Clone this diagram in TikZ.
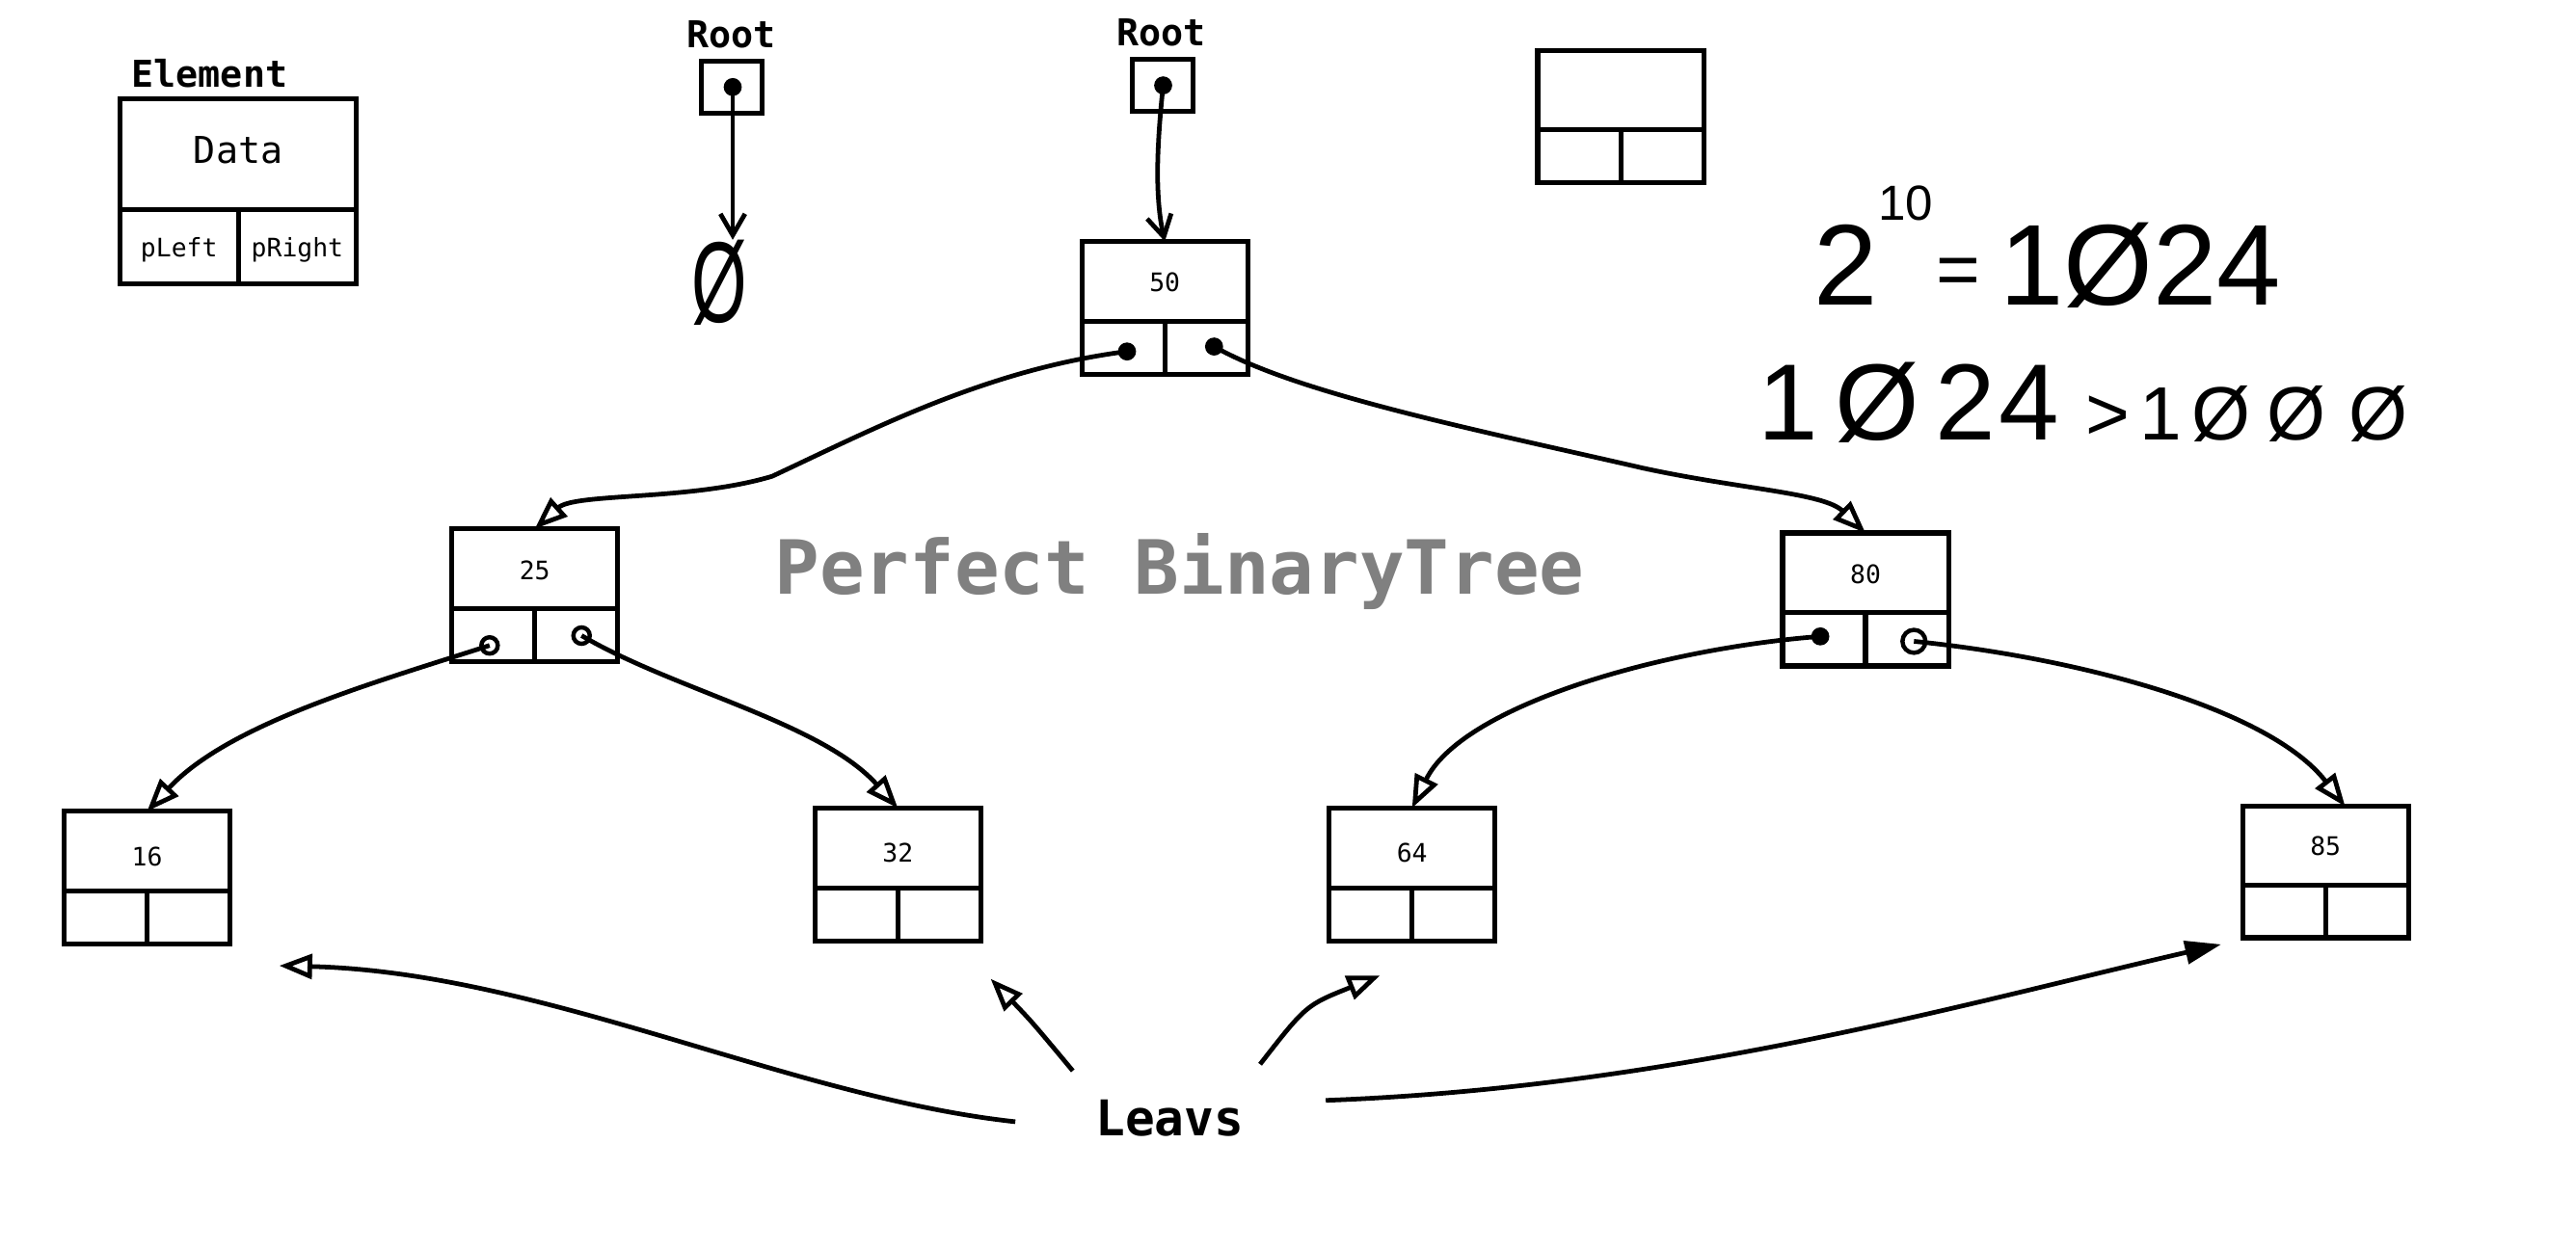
\documentclass[tikz,border=0pt]{standalone}
\usepackage{fontspec}
\usepackage{graphicx}
\setmainfont{Liberation Sans}
\setmonofont{DejaVu Sans Mono}
\usetikzlibrary{arrows.meta,calc}
\definecolor{titlegray}{RGB}{128,128,128}
\begin{document}
\begin{tikzpicture}[x=1pt,y=-1pt,
  cellbox/.style={draw,line width=3pt,inner sep=0pt,outer sep=0pt,minimum width=101pt,minimum height=81pt},
  split/.style={line width=3pt},
  numtxt/.style={font=\ttfamily\fontsize{15.5}{16}\selectfont,inner sep=0pt},
  bigtxt/.style={font=\ttfamily\bfseries\fontsize{22.5}{24}\selectfont,inner sep=0pt},
  fieldtxt/.style={font=\ttfamily\fontsize{22.5}{24}\selectfont,inner sep=0pt},
  ptrtxt/.style={font=\ttfamily\fontsize{15.5}{16}\selectfont,inner sep=0pt},
  dotfill/.style={circle,fill,inner sep=0pt,minimum size=11pt},
  dotopen/.style={circle,draw,line width=2.6pt,inner sep=0pt,minimum size=10pt},
  link/.style={line width=2.8pt,-{Triangle[open,length=20pt,width=15pt]}},
  linkfill/.style={line width=2.8pt,-{Triangle[length=22pt,width=14pt]}},
  rootlink/.style={line width=2.8pt,-{Straight Barb[length=13pt,width=15pt]}},
  hand/.style={inner sep=0pt}
]
\path[use as bounding box,fill=white] (0,0) rectangle (1568,761);

% element legend
\node[cellbox,minimum width=144pt,minimum height=113pt] (elem) at (145,116.5) {};
\node[bigtxt,anchor=base west] (elemlbl) at (80,53) {Element};
\node[fieldtxt] (datatxt) at ($(elem.north)!0.28!(elem.south)$) {Data};
\node[ptrtxt] (plefttxt) at ($(elem.south west)!0.25!(elem.south east)+(0,-21)$) {pLeft};
\node[ptrtxt] (prighttxt) at ($(elem.south west)!0.75!(elem.south east)+(0,-21)$) {pRight};

% empty element
\node[cellbox,minimum width=101pt,minimum height=80pt] (empty) at (986.5,71) {};

% tree nodes
\node[cellbox] (n50) at (709,187.5) {};
\node[cellbox] (n25) at (325.5,362.5) {};
\node[cellbox] (n80) at (1135.5,365) {};
\node[cellbox] (n16) at (89.5,534.5) {};
\node[cellbox] (n32) at (546.5,532.5) {};
\node[cellbox] (n64) at (859.5,532.5) {};
\node[cellbox,minimum height=80pt] (n85) at (1415.5,531) {};

\foreach \n in {elem,empty,n50,n25,n80,n16,n32,n64,n85}{
  \draw[split] ($(\n.north west)!0.6!(\n.south west)$) -- ($(\n.north east)!0.6!(\n.south east)$);
  \draw[split] ($(\n.north)!0.6!(\n.south)$) -- (\n.south);
}

\node[numtxt] (t50) at ($(n50.north)!0.31!(n50.south)$) {50};
\node[numtxt] (t25) at ($(n25.north)!0.31!(n25.south)$) {25};
\node[numtxt] (t80) at ($(n80.north)!0.31!(n80.south)$) {80};
\node[numtxt] (t16) at ($(n16.north)!0.34!(n16.south)$) {16};
\node[numtxt] (t32) at ($(n32.north)!0.34!(n32.south)$) {32};
\node[numtxt] (t64) at ($(n64.north)!0.34!(n64.south)$) {64};
\node[numtxt] (t85) at ($(n85.north)!0.30!(n85.south)$) {85};

% roots
\node[bigtxt] (r1lbl) at (445,21) {Root};
\node[bigtxt] (r2lbl) at (707,20) {Root};
\node[draw,line width=3pt,inner sep=0pt,minimum width=37pt,minimum height=32pt] (r1) at (445.5,53) {};
\node[draw,line width=3pt,inner sep=0pt,minimum width=37pt,minimum height=32pt] (r2) at (707.5,52) {};
\node[dotfill] (d1) at (446,53) {};
\node[dotfill] (d2) at (708,52) {};

\node[inner sep=0pt,anchor=north,font=\fontsize{70}{70}\selectfont] (nullsym) at (438,146) {\scalebox{0.62}[1]{Ø}};
\draw[rootlink] (d1.center) -- (d1.center |- nullsym.north);
\draw[rootlink] (d2.center) .. controls (704,90) and (703,120) .. (n50.north);

% pointer dots
\node[dotfill] (d50l) at ($(n50.south)+(-23,-14)$) {};
\node[dotfill] (d50r) at ($(n50.south)+(30,-17)$) {};
\node[dotopen] (d25l) at ($(n25.south)+(-27.5,-10)$) {};
\node[dotopen] (d25r) at ($(n25.south)+(28.5,-16)$) {};
\node[dotfill] (d80l) at ($(n80.south)+(-27.5,-18)$) {};
\node[dotopen,minimum width=14pt,minimum height=10pt] (d80r) at ($(n80.south)+(29.5,-15)$) {};

% tree links
\draw[link] (d50l.center) .. controls (600,225) and (530,262) .. (470,290)
  .. controls (420,305) and (350,300) .. (n25.north);
\draw[link] (d50r.center) .. controls (790,240) and (900,262) .. (1000,285)
  .. controls (1060,298) and (1110,300) .. (n80.north);
\draw[link] (d25l.center) .. controls (230,415) and (140,440) .. (n16.north);
\draw[link] (d25r.center) .. controls (410,420) and (500,440) .. (n32.north);
\draw[link] (d80l.center) .. controls (1010,395) and (890,430) .. (n64.north);
\draw[link] (d80r.center) .. controls (1260,400) and (1380,430) .. ($(n85.north)+(12,0)$);

% title
\node[font=\ttfamily\bfseries\fontsize{45.5}{48}\selectfont,text=titlegray,inner sep=0pt] (title) at (718,348) {Perfect BinaryTree};

% leaves
\node[font=\ttfamily\bfseries\fontsize{30}{32}\selectfont,inner sep=0pt] (leavs) at (712,681) {Leavs};
\coordinate (lv1a) at (618,683);
\coordinate (lv1b) at (170,588);
\coordinate (lv2a) at (653,652);
\coordinate (lv2b) at (603,596);
\coordinate (lv3a) at (767,648);
\coordinate (lv3b) at (840,594);
\coordinate (lv4a) at (807,670);
\coordinate (lv4b) at (1352,575);
\draw[link] (lv1a) .. controls (480,668) and (330,592) .. (lv1b);
\draw[link] (lv2a) .. controls (628,622) .. (lv2b);
\draw[link] (lv3a) .. controls (795,612) .. (lv3b);
\draw[linkfill] (lv4a) .. controls (1020,662) and (1200,610) .. (lv4b);

% handwritten notes
\node[hand,anchor=base west] (eq1) at (1104,186) {\fontsize{70}{70}\selectfont 2\raisebox{52pt}{\fontsize{30}{30}\selectfont 10}\hspace{2pt}\raisebox{6pt}{\fontsize{46}{46}\selectfont =}\hspace{12pt}1Ø24};
\node[hand,anchor=base west] (eq2) at (1070,268) {\fontsize{66}{66}\selectfont 1\hspace{10pt}Ø\hspace{10pt}2\hspace{2pt}4\hspace{16pt}\fontsize{46}{46}\selectfont >\hspace{6pt}1\hspace{6pt}Ø\hspace{10pt}Ø\hspace{14pt}Ø};
\end{tikzpicture}
\end{document}
